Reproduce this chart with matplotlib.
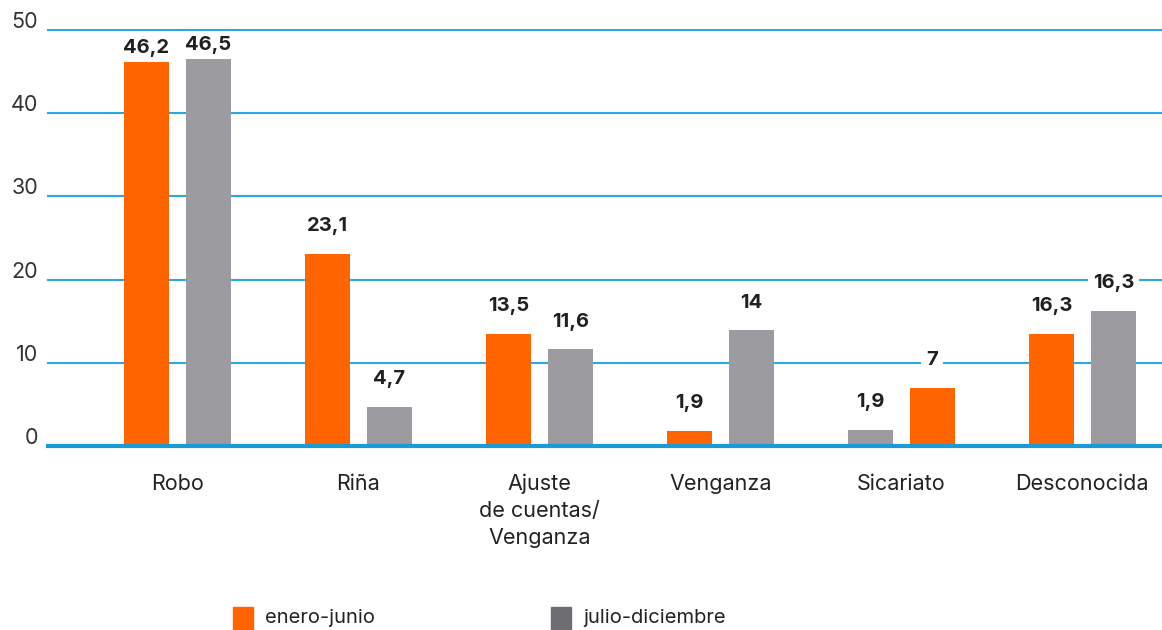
import matplotlib
matplotlib.use("Agg")
import matplotlib.pyplot as plt
from matplotlib.patches import Rectangle
import numpy as np

categories = ["Robo", "Riña", "Ajuste\nde cuentas/\nVenganza", "Venganza", "Sicariato", "Desconocida"]
left_values = [46.2, 23.1, 13.5, 1.8, 1.9, 13.5]
right_values = [46.5, 4.7, 11.6, 13.9, 7.0, 16.2]
left_labels = ["46,2", "23,1", "13,5", "1,9", "1,9", "16,3"]
right_labels = ["46,5", "4,7", "11,6", "14", "7", "16,3"]
left_series = ["enero-junio", "enero-junio", "enero-junio", "enero-junio", "julio-diciembre", "enero-junio"]
right_series = ["julio-diciembre", "julio-diciembre", "julio-diciembre", "julio-diciembre", "enero-junio", "julio-diciembre"]
series_names = ["enero-junio", "julio-diciembre"]
yticks = [0, 10, 20, 30, 40, 50]

ORANGE = "#ff6400"
GRAY = "#9c9b9f"
LEG_GRAY = "#6e6d72"
BLUE = "#29a9e0"
col = {"enero-junio": ORANGE, "julio-diciembre": GRAY}
legcol = {"enero-junio": ORANGE, "julio-diciembre": LEG_GRAY}

plt.rcParams['font.family'] = ['Inter', 'DejaVu Sans']

W, H = 1162, 630
fig = plt.figure(figsize=(W / 100, H / 100), dpi=100)
ax = fig.add_axes([48 / W, (H - 446) / H, (W - 48) / W, (446 - 30) / H])

x = np.arange(len(categories))
off = 0.171
bw = 0.249
ax.bar(x - off, left_values, width=bw, color=[col[s] for s in left_series], zorder=3)
ax.bar(x + off, right_values, width=bw, color=[col[s] for s in right_series], zorder=3)

ax.set_xlim(-0.715, 5.44)
ax.set_ylim(0, 50)

for t in yticks:
    if t == 0:
        ax.axhline(t, color="#1a9ad6", lw=3, zorder=4, clip_on=False)
    else:
        ax.axhline(t, color=BLUE, lw=1.5, zorder=1, clip_on=False)
    ax.annotate(str(t), (-0.715, t), xytext=(-7, -1.5), textcoords="offset points",
                ha="right", va="bottom", fontsize=15.5, color="#333333", annotation_clip=False)

def lab(xp, v, s):
    dy = 10 if v > 40 else 20
    ax.annotate(s, (xp, v), xytext=(0, dy), textcoords="offset points", ha="center", va="center",
                fontsize=14.5, fontweight="bold", color="#231f20", zorder=5,
                bbox=dict(boxstyle="square,pad=0.25", fc="white", ec="none"))

for i in range(len(categories)):
    lab(x[i] - off, left_values[i], left_labels[i])
    lab(x[i] + off, right_values[i], right_labels[i])

ax.set_xticks([])
ax.set_yticks([])
for s in ax.spines.values():
    s.set_visible(False)

for i, c in enumerate(categories):
    ax.annotate(c, (x[i], 0), xytext=(0, -20), textcoords="offset points", ha="center", va="top",
                fontsize=15.5, color="#222222", linespacing=1.42, annotation_clip=False)

# legend
leg_x = [233, 551]
for name, lx in zip(series_names, leg_x):
    fig.patches.append(Rectangle((lx / W, 0), 20 / W, 23 / H, transform=fig.transFigure,
                                 color=legcol[name]))
    fig.text((lx + 32) / W, (H - 618) / H, name, ha="left", va="center", fontsize=14.5, color="#222222")

fig.savefig("out.png", dpi=100)
